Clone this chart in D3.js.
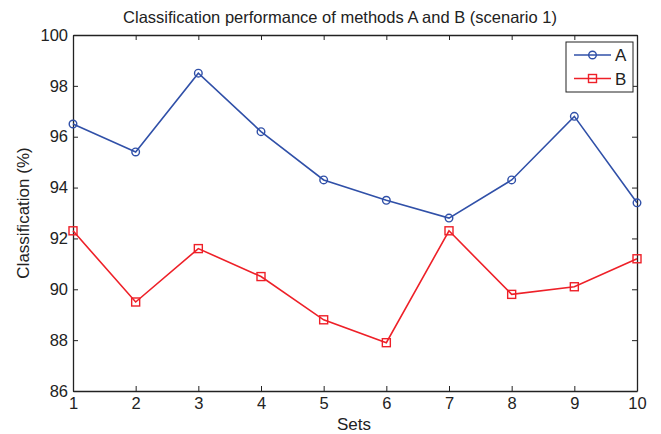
<!DOCTYPE html>
<html><head><meta charset="utf-8">
<script src="https://cdn.jsdelivr.net/npm/d3@7"></script>
<style>body{margin:0;background:#fff}svg{display:block}text{font-family:"Liberation Sans",Arial,sans-serif;fill:#222}</style>
</head><body><svg id="c" width="661" height="434"></svg>
<script>
const sets = [1,2,3,4,5,6,7,8,9,10];
const seriesA = [96.5,95.4,98.5,96.2,94.3,93.5,92.8,94.3,96.8,93.4];
const seriesB = [92.3,89.5,91.6,90.5,88.8,87.9,92.3,89.8,90.1,91.2];
const yTicks = [86,88,90,92,94,96,98,100];
const seriesNames = ["A","B"];
const colors = ["#3050a8","#ee2028"];

const svg = d3.select("#c");
const L=73,R=637,T=35,B=391;
const x = d3.scaleLinear().domain([1,10]).range([L,R]);
const y = d3.scaleLinear().domain([86,100]).range([B,T]);
const axisCol="#222";

const gB = svg.append("g").attr("transform",`translate(0,${B})`)
  .call(d3.axisBottom(x).tickValues(sets).tickSizeInner(-5).tickSizeOuter(0).tickPadding(6).tickFormat(d3.format("d")));
const gT = svg.append("g").attr("transform",`translate(0,${T})`)
  .call(d3.axisTop(x).tickValues(sets).tickSizeInner(-5).tickSizeOuter(0).tickFormat(""));
const gL = svg.append("g").attr("transform",`translate(${L},0)`)
  .call(d3.axisLeft(y).tickValues(yTicks).tickSizeInner(-5).tickSizeOuter(0).tickPadding(5));
const gR = svg.append("g").attr("transform",`translate(${R},0)`)
  .call(d3.axisRight(y).tickValues(yTicks).tickSizeInner(-5).tickSizeOuter(0).tickFormat(""));
[gB,gT,gL,gR].forEach(g=>{
  g.selectAll(".domain").attr("stroke",axisCol).attr("stroke-width",1.3);
  g.selectAll(".tick line").attr("stroke",axisCol);
  g.selectAll("text").style("font-size","16.5px").attr("fill","#222");
});
gB.selectAll("text").attr("dy","0.71em");

const data = [seriesA, seriesB];
const line = d3.line().x((d,i)=>x(sets[i])).y(d=>y(d));
data.forEach((s,k)=>{
  svg.append("path").datum(s).attr("d",line).attr("fill","none")
    .attr("stroke",colors[k]).attr("stroke-width",1.6);
});
svg.selectAll(".ma").data(seriesA).enter().append("circle")
  .attr("cx",(d,i)=>x(sets[i])).attr("cy",d=>y(d)).attr("r",3.8)
  .attr("fill","none").attr("stroke",colors[0]).attr("stroke-width",1.4);
svg.selectAll(".mb").data(seriesB).enter().append("rect")
  .attr("x",(d,i)=>x(sets[i])-4).attr("y",d=>y(d)-4).attr("width",8).attr("height",8)
  .attr("fill","none").attr("stroke",colors[1]).attr("stroke-width",1.4);

const lg = svg.append("g");
lg.append("rect").attr("x",566).attr("y",42).attr("width",67).attr("height",50)
  .attr("fill","#fff").attr("stroke","#222").attr("stroke-width",1);
seriesNames.forEach((n,k)=>{
  const yy = 55 + k*23.5;
  lg.append("line").attr("x1",574).attr("x2",611).attr("y1",yy).attr("y2",yy)
    .attr("stroke",colors[k]).attr("stroke-width",1.6);
  if(k===0) lg.append("circle").attr("cx",592.5).attr("cy",yy).attr("r",3.8)
    .attr("fill","none").attr("stroke",colors[k]).attr("stroke-width",1.4);
  else lg.append("rect").attr("x",588.5).attr("y",yy-4).attr("width",8).attr("height",8)
    .attr("fill","none").attr("stroke",colors[k]).attr("stroke-width",1.4);
  lg.append("text").attr("x",615).attr("y",yy+6).text(n).style("font-size","17px");
});

svg.append("text").attr("x",(L+R)/2 - 15).attr("y",23).attr("text-anchor","middle")
  .style("font-size","16.5px").text("Classification performance of methods A and B (scenario 1)");
svg.append("text").attr("x",354).attr("y",430).attr("text-anchor","middle")
  .style("font-size","17px").text("Sets");
svg.append("text").attr("transform",`translate(29,${(T+B)/2}) rotate(-90)`)
  .attr("text-anchor","middle").style("font-size","17px").text("Classification (%)");
</script></body></html>
